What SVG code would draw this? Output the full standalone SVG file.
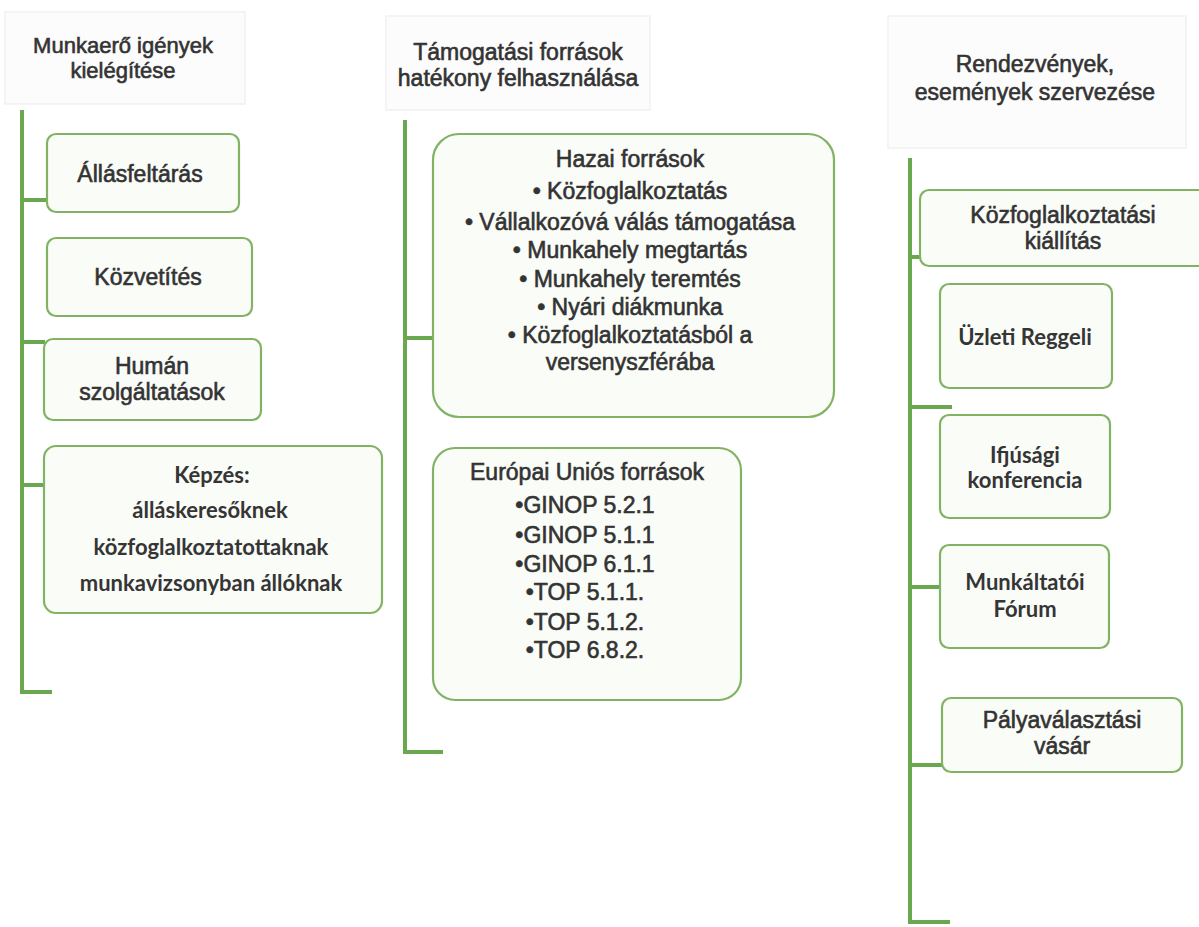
<svg xmlns="http://www.w3.org/2000/svg" width="1199" height="927" viewBox="0 0 1199 927">
<style>
.hdr{fill:#fcfcfc;stroke:#f1f1f1;stroke-width:1.5}
.box{fill:#fafcf8;stroke:#82b365;stroke-width:2.2}
.ln{stroke:#6aa84f;stroke-width:4;fill:none}
.t{font-family:"Liberation Sans",Arial,sans-serif;font-size:23px;fill:#333333;stroke:#333333;stroke-width:0.6;text-anchor:middle}
.h{font-size:22px}
.c{font-family:Lato,"Open Sans",sans-serif;font-size:22px;font-weight:bold;fill:#353535;text-anchor:middle}
</style>
<rect width="1199" height="927" fill="#ffffff"/>
<g id="connectors">
<path class="ln" d="M22 110 V692 H52"/>
<path class="ln" d="M22 200 H47"/>
<path class="ln" d="M22 342 H45"/>
<path class="ln" d="M22 485 H45"/>
<path class="ln" d="M405 120 V752 H443"/>
<path class="ln" d="M405 338 H433"/>
<path class="ln" d="M910 158 V922 H950"/>
<path class="ln" d="M910 257 H921"/>
<path class="ln" d="M910 407 H952"/>
<path class="ln" d="M910 587 H941"/>
<path class="ln" d="M910 765 H943"/>
</g>
<g id="h1"><rect class="hdr" x="5" y="12" width="240" height="92"/><text class="t h" x="123" y="53">Munkaerő igények</text><text class="t h" x="123" y="78">kielégítése</text></g>
<g id="n1"><rect class="box" x="47" y="134" width="192" height="78" rx="9"/><text class="t" x="140" y="182">Állásfeltárás</text></g>
<g id="n2"><rect class="box" x="47" y="238" width="205" height="78" rx="9"/><text class="t" x="148" y="285">Közvetítés</text></g>
<g id="n3"><rect class="box" x="44" y="339" width="217" height="81" rx="9"/><text class="t" x="152" y="374">Humán</text><text class="t" x="152" y="400">szolgáltatások</text></g>
<g id="n4"><rect class="box" x="44" y="446" width="338" height="167" rx="12"/><text class="c" x="212" y="483">Képzés:</text><text class="c" x="210" y="518">álláskeresőknek</text><text class="c" x="211" y="555">közfoglalkoztatottaknak</text><text class="c" x="211" y="591">munkavizsonyban állóknak</text></g>
<g id="h2"><rect class="hdr" x="386" y="16" width="264" height="94"/><text class="t" x="518" y="60">Támogatási források</text><text class="t" x="518" y="86">hatékony felhasználása</text></g>
<g id="n5"><rect class="box" x="433" y="134" width="401" height="283" rx="26"/>
<text class="t" x="630" y="167">Hazai források</text>
<text class="t" x="630" y="199">• Közfoglalkoztatás</text>
<text class="t" x="630" y="230">• Vállalkozóvá válás támogatása</text>
<text class="t" x="630" y="258">• Munkahely megtartás</text>
<text class="t" x="630" y="287">• Munkahely teremtés</text>
<text class="t" x="630" y="315">• Nyári diákmunka</text>
<text class="t" x="630" y="343">• Közfoglalkoztatásból a</text>
<text class="t" x="630" y="370">versenyszférába</text></g>
<g id="n6"><rect class="box" x="433" y="448" width="308" height="252" rx="22"/>
<text class="t" x="587" y="480">Európai Uniós források</text>
<text class="t" x="585" y="513">•GINOP 5.2.1</text>
<text class="t" x="585" y="543">•GINOP 5.1.1</text>
<text class="t" x="585" y="572">•GINOP 6.1.1</text>
<text class="t" x="585" y="600">•TOP 5.1.1.</text>
<text class="t" x="585" y="630">•TOP 5.1.2.</text>
<text class="t" x="585" y="658">•TOP 6.8.2.</text></g>
<g id="h3"><rect class="hdr" x="888" y="16" width="298" height="132"/><text class="t" x="1035" y="72">Rendezvények,</text><text class="t" x="1035" y="100">események szervezése</text></g>
<g id="n7"><rect class="box" x="920" y="190" width="290" height="76" rx="9"/><text class="t" x="1063" y="223">Közfoglalkoztatási</text><text class="t" x="1063" y="249">kiállítás</text></g>
<g id="n8"><rect class="box" x="940" y="284" width="172" height="104" rx="9"/><text class="c" x="1025" y="345">Üzleti Reggeli</text></g>
<g id="n9"><rect class="box" x="940" y="415" width="170" height="103" rx="9"/><text class="c" x="1025" y="463">Ifjúsági</text><text class="c" x="1025" y="488">konferencia</text></g>
<g id="n10"><rect class="box" x="940" y="545" width="169" height="103" rx="9"/><text class="c" x="1025" y="590">Munkáltatói</text><text class="c" x="1025" y="617">Fórum</text></g>
<g id="n11"><rect class="box" x="942" y="698" width="240" height="74" rx="9"/><text class="t" x="1062" y="728">Pályaválasztási</text><text class="t" x="1062" y="754">vásár</text></g>
</svg>
